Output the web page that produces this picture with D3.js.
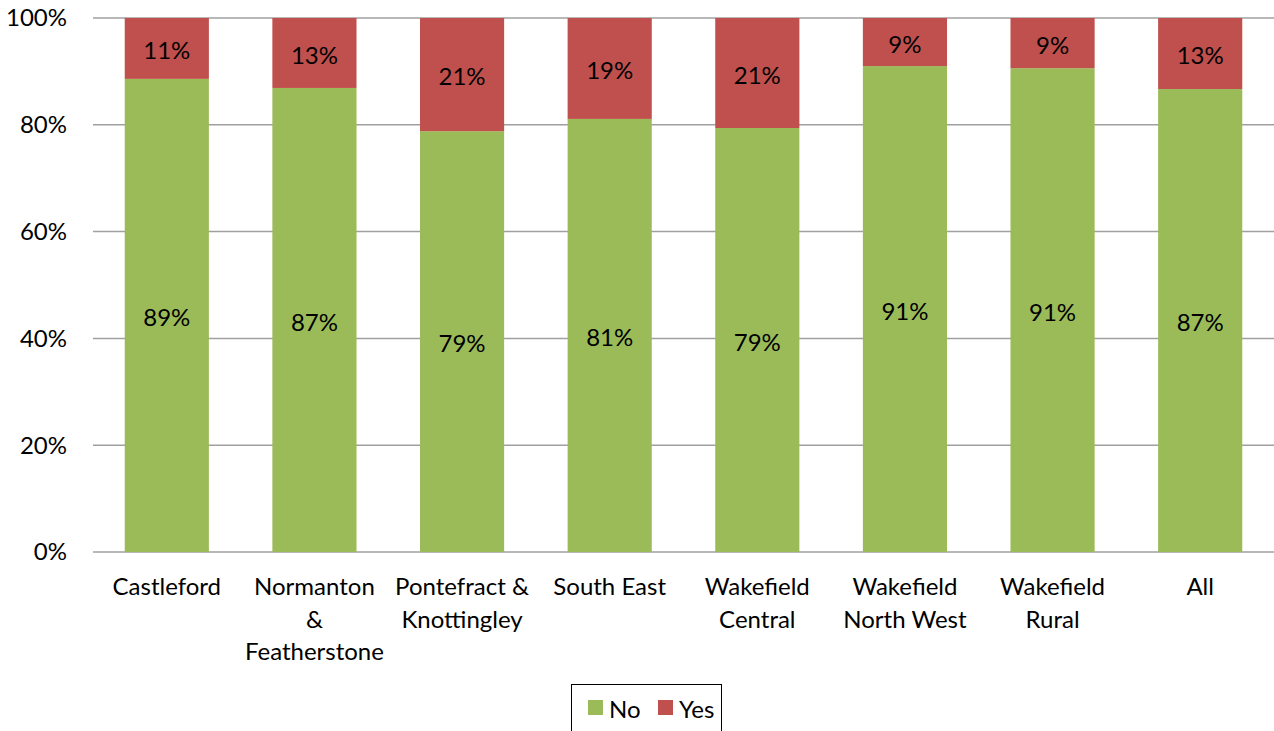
<!DOCTYPE html>
<html>
<head>
<meta charset="utf-8">
<script src="https://cdn.jsdelivr.net/npm/d3@7"></script>
<style>
  body { margin: 0; background: #fff; }
  svg { display: block; font-family: Lato, "Open Sans", sans-serif; }
</style>
</head>
<body>
<svg id="chart" width="1274" height="731"></svg>
<script>
// areas along the x axis
var areas = [
  ["Castleford"],
  ["Normanton", "&", "Featherstone"],
  ["Pontefract &", "Knottingley"],
  ["South East"],
  ["Wakefield", "Central"],
  ["Wakefield", "North West"],
  ["Wakefield", "Rural"],
  ["All"]
];
var noVals  = [88.6, 86.9, 78.8, 81.1, 79.4, 91.0, 90.6, 86.7];
var yesVals = [11.4, 13.1, 21.2, 18.9, 20.6,  9.0,  9.4, 13.3];
var noLabels  = ["89%", "87%", "79%", "81%", "79%", "91%", "91%", "87%"];
var yesLabels = ["11%", "13%", "21%", "19%", "21%", "9%", "9%", "13%"];
var yTicks = [0, 20, 40, 60, 80, 100];

var svg = d3.select("#chart");
var green = "#9BBB59", red = "#C0504D";
var fs = "24px";

var x = d3.scaleBand()
    .domain(d3.range(areas.length))
    .range([93, 1274])
    .paddingInner(0.43)
    .paddingOuter(0.215);
var y = d3.scaleLinear().domain([0, 100]).range([552, 18]);

// gridlines
svg.append("g").selectAll("line")
  .data(yTicks)
  .enter().append("line")
    .attr("x1", 93).attr("x2", 1274)
    .attr("y1", function(d) { return y(d); })
    .attr("y2", function(d) { return y(d); })
    .attr("stroke", "#a0a0a0")
    .attr("stroke-width", 1.5);

// y labels
svg.append("g").selectAll("text")
  .data(yTicks)
  .enter().append("text")
    .attr("x", 67)
    .attr("y", function(d) { return y(d); })
    .attr("dy", "0.35em")
    .attr("text-anchor", "end")
    .style("font-size", fs)
    .text(function(d) { return d + "%"; });

var rows = areas.map(function(a, i) {
  return { i: i, no: noVals[i], yes: yesVals[i], noL: noLabels[i], yesL: yesLabels[i] };
});

var bars = svg.append("g").selectAll("g")
  .data(rows)
  .enter().append("g");

bars.append("rect")
    .attr("x", function(d) { return x(d.i); })
    .attr("width", x.bandwidth())
    .attr("y", function(d) { return y(d.no); })
    .attr("height", function(d) { return y(0) - y(d.no); })
    .attr("fill", green);

bars.append("rect")
    .attr("x", function(d) { return x(d.i); })
    .attr("width", x.bandwidth())
    .attr("y", function(d) { return y(d.no + d.yes); })
    .attr("height", function(d) { return y(d.no) - y(d.no + d.yes); })
    .attr("fill", red);

bars.append("text")
    .attr("x", function(d) { return x(d.i) + x.bandwidth() / 2; })
    .attr("y", function(d) { return y(d.no / 2); })
    .attr("dy", "0.45em")
    .attr("text-anchor", "middle")
    .style("font-size", fs)
    .text(function(d) { return d.noL; });

bars.append("text")
    .attr("x", function(d) { return x(d.i) + x.bandwidth() / 2; })
    .attr("y", function(d) { return y(d.no + d.yes / 2); })
    .attr("dy", "0.45em")
    .attr("text-anchor", "middle")
    .style("font-size", fs)
    .text(function(d) { return d.yesL; });

// category labels
var cats = svg.append("g").selectAll("text")
  .data(areas)
  .enter().append("text")
    .attr("text-anchor", "middle")
    .style("font-size", fs);
cats.selectAll("tspan")
  .data(function(d, i) { return d.map(function(t) { return { t: t, i: i }; }); })
  .enter().append("tspan")
    .attr("x", function(d) { return x(d.i) + x.bandwidth() / 2; })
    .attr("y", function(d, j) { return 595 + j * 32.5; })
    .text(function(d) { return d.t; });

// legend
var leg = svg.append("g");
leg.append("rect")
    .attr("x", 571.5).attr("y", 684.5)
    .attr("width", 150).attr("height", 60)
    .attr("fill", "none").attr("stroke", "#000").attr("stroke-width", 1);
var legItems = [{ name: "No", c: green, x: 588 }, { name: "Yes", c: red, x: 658 }];
leg.selectAll("rect.sw")
  .data(legItems)
  .enter().append("rect")
    .attr("class", "sw")
    .attr("x", function(d) { return d.x; }).attr("y", 700)
    .attr("width", 15).attr("height", 15)
    .attr("fill", function(d) { return d.c; });
leg.selectAll("text")
  .data(legItems)
  .enter().append("text")
    .attr("x", function(d) { return d.x + 21; })
    .attr("y", 708)
    .attr("dy", "0.4em")
    .style("font-size", fs)
    .text(function(d) { return d.name; });
</script>
</body>
</html>
